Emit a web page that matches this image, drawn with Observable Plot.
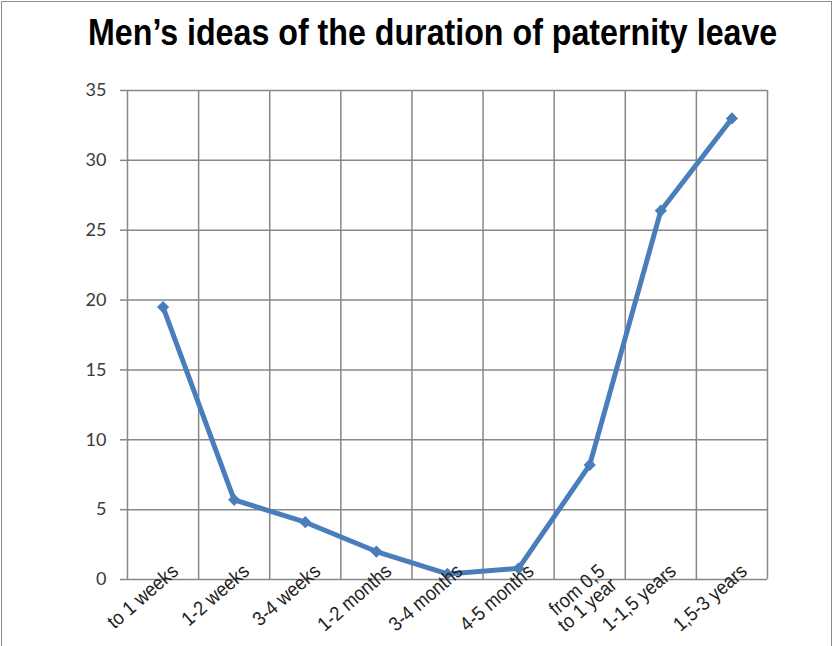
<!DOCTYPE html>
<html><head><meta charset="utf-8">
<script src="https://cdn.jsdelivr.net/npm/d3@7"></script>
<script src="https://cdn.jsdelivr.net/npm/@observablehq/plot@0.6"></script>
<style>
body{margin:0;background:#fff}
#wrap{position:relative;width:833px;height:646px;overflow:hidden;background:#fff}
#frame{position:absolute;left:1px;top:1px;width:829px;height:680px;border:1px solid #8a8a8a;pointer-events:none}
#title{position:relative;height:70px}
#title span{position:absolute;left:88px;top:12px;white-space:nowrap;transform-origin:0 0;transform:scaleX(0.87);font-family:"Liberation Sans",Arial,sans-serif;font-weight:bold;font-size:37px;color:#000}
</style></head>
<body><div id="wrap"><div id="title"><span id="tt">Men’s ideas of the duration of paternity leave</span></div><div id="chart"></div><div id="frame"></div></div>
<script>
const categories = ["to 1 weeks","1-2 weeks","3-4 weeks","1-2 months","3-4 months","4-5 months","from 0,5\nto 1 year","1-1,5 years","1,5-3 years"];
const values = [19.5, 5.7, 4.1, 2.0, 0.4, 0.8, 8.2, 26.4, 33.0];
const yTicks = [0,5,10,15,20,25,30,35];

const data = categories.map((c,i)=>({i, label:c, v:values[i]}));
const edges = d3.range(categories.length+1).map(i=>i-0.5);
const grid = "#878787";
const blue = "#4a7ebb";

const chart = Plot.plot({
  width: 833, height: 576,
  marginTop: 20, marginBottom: 67, marginLeft: 127, marginRight: 66,
  x: {type:"linear", domain:[-0.5, categories.length-0.5], axis:null},
  y: {domain:[0,35], axis:null},
  marks: [
    Plot.ruleY(yTicks, {stroke:grid, strokeWidth:1.5}),
    Plot.axisY({ticks:yTicks, tickSize:7, tickPadding:14, stroke:grid, strokeWidth:1.5, fill:"#3a3a3a", fontSize:18, fontFamily:"Lato, 'Open Sans', sans-serif", label:null}),
    Plot.ruleX(edges, {y1:0, y2:35, stroke:grid, strokeWidth:1.5}),
    Plot.line(data, {x:"i", y:"v", stroke:blue, strokeWidth:5}),
    Plot.dot(data, {x:"i", y:"v", symbol:"diamond2", r:5.5, fill:blue}),
    Plot.text(data, {x:"i", y:()=>0, text:"label", rotate:-41, textAnchor:"end", lineAnchor:"top", dx:8, dy:-16, fontSize:20, fontFamily:"'Liberation Sans', Arial, sans-serif", fill:"#222", lineHeight:0.9})
  ]
});
document.getElementById("chart").appendChild(chart);
d3.select(chart).selectAll('g[aria-label="text"] text').each(function(){
  const t = this.getAttribute("transform") || "";
  this.setAttribute("transform", t + " scale(0.9,1)");
});
</script></body></html>
